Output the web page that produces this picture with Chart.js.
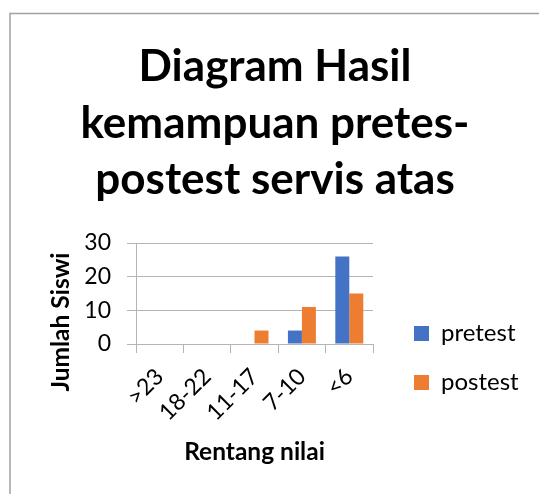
<!DOCTYPE html>
<html>
<head>
<meta charset="utf-8">
<script src="https://cdn.jsdelivr.net/npm/chart.js@4/dist/chart.umd.min.js"></script>
<style>
    html, body { margin: 0; padding: 0; background: #fff; }
    #wrap { position: relative; width: 539px; height: 494px; }
</style>
</head>
<body>
<div id="wrap"><canvas id="chart" width="539" height="494"></canvas></div>
<script>
// data
const categories = ['>23', '18-22', '11-17', '7-10', '<6'];
const pretest = [0, 0, 0, 4, 26];
const postest = [0, 0, 4, 11, 15];
const titleLines = ['Diagram Hasil', 'kemampuan pretes-', 'postest servis atas'];
const yTitle = 'Jumlah Siswi';
const xTitle = 'Rentang nilai';
const yMin = 0, yMax = 30, yStep = 10;

const FONT = 'Lato';
const GRID = '#b4b4b4';

// frame lines (the original is cropped, only left + top edge show)
const framePlugin = {
    id: 'frame',
    beforeDraw(chart) {
        const ctx = chart.ctx;
        ctx.save();
        ctx.strokeStyle = '#a0a0a0';
        ctx.lineWidth = 1.5;
        ctx.beginPath();
        ctx.moveTo(539, 13.5);
        ctx.lineTo(10, 13.5);
        ctx.lineTo(10, 494);
        ctx.stroke();
        ctx.restore();
    }
};

// y title sits a bit lower than the axis centre in the original
const yTitlePlugin = {
    id: 'yTitle',
    afterDraw(chart) {
        const ctx = chart.ctx;
        ctx.save();
        ctx.translate(61, 322);
        ctx.rotate(-Math.PI / 2);
        ctx.font = 'bold 24.5px ' + FONT;
        ctx.fillStyle = '#000';
        ctx.textAlign = 'center';
        ctx.textBaseline = 'middle';
        ctx.fillText(yTitle, 0, 0);
        ctx.restore();
    }
};

// move legend box next to the plot, lower half
const legendPlacePlugin = {
    id: 'legendPlace',
    afterLayout(chart) {
        const lg = chart.legend;
        if (!lg) return;
        const pad = lg.options.labels.padding;
        const dy = (321.5 - pad) - lg.top;
        lg.left = 414 - pad;
        lg.right = 539;
        lg.width = lg.right - lg.left;
        lg.top += dy; lg.bottom += dy;
    }
};

const ctx = document.getElementById('chart').getContext('2d');
const chart = new Chart(ctx, {
    type: 'bar',
    data: {
        labels: categories,
        datasets: [{
            label: 'pretest',
            data: pretest,
            backgroundColor: '#4472c4',
            yAxisID: 'y'
        }, {
            label: 'postest',
            data: postest,
            backgroundColor: '#ed7d31',
            yAxisID: 'y'
        }]
    },
    options: {
        responsive: false,
        animation: false,
        categoryPercentage: 0.59,
        barPercentage: 1.0,
        layout: {
            padding: { left: 11, right: 0, top: 0, bottom: 0 }
        },
        plugins: {
            title: {
                display: true,
                text: titleLines,
                color: '#000',
                font: { family: FONT, size: 44, weight: 'bold', lineHeight: 56.5 / 44 },
                padding: { top: 39, bottom: 34.5 }
            },
            legend: {
                position: 'right',
                align: 'start',
                labels: {
                    color: '#000',
                    font: { family: FONT, size: 24 },
                    boxWidth: 15,
                    boxHeight: 15,
                    padding: 25
                }
            },
            tooltip: { enabled: false }
        },
        scales: {
            x: {
                grid: {
                    display: true,
                    drawOnChartArea: false,
                    drawTicks: true,
                    tickLength: 9,
                    color: GRID
                },
                border: { display: true, color: GRID },
                ticks: {
                    color: '#000',
                    font: { family: FONT, size: 23 },
                    maxRotation: 45,
                    minRotation: 45,
                    padding: 10
                },
                title: {
                    display: true,
                    text: xTitle,
                    color: '#000',
                    font: { family: FONT, size: 24.5, weight: 'bold' },
                    padding: { top: 0, bottom: 27 }
                },
                afterFit(s) { s.height = 150; }
            },
            y: {
                min: yMin,
                max: yMax,
                grid: { color: GRID, tickLength: 9 },
                border: { display: true, color: GRID },
                ticks: {
                    stepSize: yStep,
                    color: '#000',
                    font: { family: FONT, size: 23 },
                    padding: 16
                },
                afterFit(s) { s.width = 136 - 11; }
            },
            // empty right axis, keeps the plot right edge where the original has it
            gap: {
                type: 'linear',
                position: 'right',
                display: true,
                grid: { display: false },
                border: { display: false },
                ticks: { display: false },
                afterFit(s) { s.width = Math.max(0, 166 - s.chart.legend.width); }
            }
        }
    },
    plugins: [framePlugin, yTitlePlugin, legendPlacePlugin]
});
</script>
</body>
</html>
